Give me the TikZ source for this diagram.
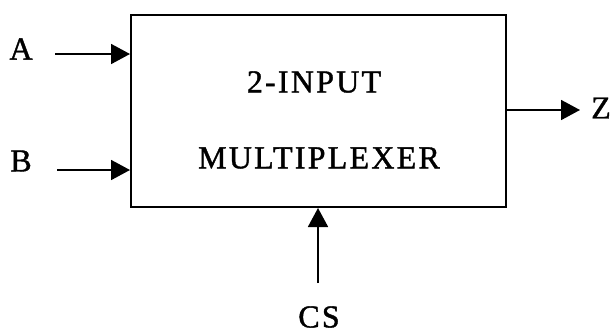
\documentclass[tikz,border=0pt]{standalone}
\usepackage{fontspec}
\setmainfont{Liberation Serif}
\newfontfamily\spacedfont[LetterSpace=7,FakeBold=1.2]{Liberation Serif}
\usetikzlibrary{arrows.meta}
\begin{document}
\begin{tikzpicture}[x=1pt,y=1pt,
  arr/.style={line width=1.8pt,-{Triangle[length=19pt,width=20pt]}},
  lbl/.style={font=\fontsize{32}{32}\selectfont\spacedfont, inner sep=0pt},
  boxstyle/.style={draw, line width=2pt, minimum width=375pt, minimum height=192pt, inner sep=0pt}]
\useasboundingbox (0,0) rectangle (610,-335);
\node[boxstyle] (box) at (318.5,-111) {};
\node[lbl] (t1) at (314,-82) {2-INPUT};
\node[lbl] (t2) at (319,-158) {MULTIPLEXER};
\node[lbl] (A) at (21,-49) {A};
\node[lbl] (B) at (21,-161) {B};
\node[lbl] (Z) at (601,-108) {Z};
\node[lbl] (CS) at (319,-317) {CS};
\coordinate (aS) at (55,-54);
\coordinate (bS) at (57,-170);
\coordinate (zE) at (580,-110);
\coordinate (cS) at (318,-283);
\draw[arr] (aS) -- (aS -| box.west);
\draw[arr] (bS) -- (bS -| box.west);
\draw[arr] (zE -| box.east) -- (zE);
\draw[arr] (cS) -- (cS |- box.south);
\end{tikzpicture}
\end{document}
